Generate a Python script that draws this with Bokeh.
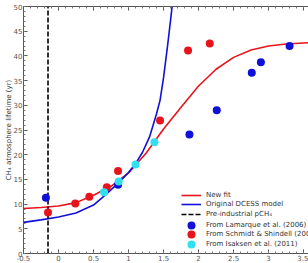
from bokeh.plotting import figure
from bokeh.models import Legend, LegendItem, LinearAxis, FixedTicker, Range1d
from bokeh.embed import file_html
from bokeh.resources import INLINE

# ---- data ----
xticks = [-0.5, 0, 0.5, 1, 1.5, 2, 2.5, 3, 3.5]
xtick_labels = ["-0.5", "0", "0.5", "1", "1.5", "2", "2.5", "3", "3.5"]
yticks = [0, 5, 10, 15, 20, 25, 30, 35, 40, 45, 50]
ytick_labels = ["0", "5", "10", "15", "20", "25", "30", "35", "40", "45", "50"]

fit_x = [-0.5, -0.25, 0.0, 0.25, 0.5, 0.75, 1.0, 1.25, 1.5, 1.75, 2.0, 2.25, 2.5, 2.75, 3.0, 3.25, 3.6]
fit_y = [9.1, 9.3, 9.6, 10.3, 11.8, 13.6, 16.3, 20.3, 25.2, 29.6, 33.9, 37.3, 39.7, 41.2, 42.0, 42.4, 42.7]

dcess_x = [-0.5, -0.25, 0.0, 0.25, 0.5, 0.65, 0.85, 1.0, 1.1, 1.2, 1.3, 1.4, 1.45, 1.5, 1.55, 1.6, 1.65]
dcess_y = [6.3, 6.8, 7.4, 8.2, 9.8, 11.6, 14.2, 16.4, 18.2, 20.5, 23.6, 28.3, 31.0, 35.6, 41.2, 47.2, 53.5]

preind_x = -0.15

lam_x = [-0.18, 0.85, 1.87, 2.26, 2.76, 2.89, 3.30]
lam_y = [11.3, 13.9, 24.1, 29.0, 36.6, 38.7, 42.0]

sch_x = [-0.15, 0.24, 0.44, 0.69, 0.85, 1.45, 1.85, 2.16]
sch_y = [8.3, 10.1, 11.5, 13.4, 16.7, 26.9, 41.1, 42.5]

isa_x = [0.65, 0.86, 1.1, 1.37]
isa_y = [12.4, 14.6, 18.0, 22.5]

legend_labels = ["New fit", "Original DCESS model", "Pre-industrial pCH₄",
                 "From Lamarque et al. (2006)", "From Schmidt & Shindell (2003)",
                 "From Isaksen et al. (2011)"]

FONT = "DejaVu Sans"
RED = "#e8141c"
BLUE = "#1010d8"
CYAN = "#30e0f0"

p = figure(width=308, height=263, output_backend="svg", toolbar_location=None,
           x_range=Range1d(-0.5, 3.57), y_range=Range1d(0, 50),
           min_border_left=23, min_border_right=0, min_border_top=6, min_border_bottom=9,
           x_axis_location=None, y_axis_location=None)
p.grid.visible = False
p.outline_line_color = None
p.background_fill_color = "white"
p.border_fill_color = "white"

def style_axis(ax, labels=True):
    ax.axis_line_color = "#555555"
    ax.axis_line_width = 1
    ax.major_tick_in = 4
    ax.major_tick_out = 0
    ax.minor_tick_in = 2
    ax.minor_tick_out = 0
    ax.major_tick_line_color = "#555555"
    ax.minor_tick_line_color = "#777777"
    ax.major_label_text_font = FONT
    ax.major_label_text_color = "#555555"
    ax.major_label_text_font_size = "7px"
    ax.major_label_standoff = 1 if labels else 0

xminor = [round(-0.5 + 0.1 * i, 2) for i in range(41)]
yminor = list(range(0, 51))

xb = LinearAxis(ticker=FixedTicker(ticks=xticks, minor_ticks=xminor),
                major_label_overrides={t: l for t, l in zip(xticks, xtick_labels)})
style_axis(xb)
p.add_layout(xb, "below")

xt = LinearAxis(ticker=FixedTicker(ticks=xticks, minor_ticks=xminor),
                major_label_overrides={t: "" for t in xticks})
style_axis(xt, labels=False)
p.add_layout(xt, "above")

yl = LinearAxis(ticker=FixedTicker(ticks=yticks, minor_ticks=yminor),
                major_label_overrides={t: l for t, l in zip(yticks, ytick_labels)},
                axis_label="CH₄ atmosphere lifetime (yr)")
style_axis(yl)
yl.major_label_standoff = 1
yl.axis_label_text_font = FONT
yl.axis_label_text_font_size = "7px"
yl.axis_label_text_font_style = "normal"
yl.axis_label_text_color = "#333333"
yl.axis_label_standoff = -2
p.add_layout(yl, "left")

r_fit = p.line(fit_x, fit_y, line_color=RED, line_width=1.6)
r_dc = p.line(dcess_x, dcess_y, line_color=BLUE, line_width=1.6)
r_pi = p.line([preind_x, preind_x], [0, 50], line_color="black", line_width=1.6, line_dash="5 2")
r_lam = p.scatter(lam_x, lam_y, size=8, fill_color=BLUE, line_color=None)
r_sch = p.scatter(sch_x, sch_y, size=8, fill_color=RED, line_color=None)
r_isa = p.scatter(isa_x, isa_y, size=8, fill_color=CYAN, line_color=None)

renderers = [r_fit, r_dc, r_pi, r_lam, r_sch, r_isa]
row_centers = [58.3, 48.7, 39.0, 28.5, 18.8, 9.2]  # px above frame bottom
for i, (lab, r, c) in enumerate(zip(legend_labels, renderers, row_centers)):
    gh = 8 if i < 3 else 20
    lg = Legend(items=[LegendItem(label=lab, renderers=[r])],
                location=(158, int(round(c - gh / 2))))
    lg.padding = 0
    lg.margin = 0
    lg.spacing = 0
    lg.glyph_height = gh
    lg.glyph_width = 20
    lg.label_height = 8
    lg.label_standoff = 5
    lg.label_text_font = FONT
    lg.label_text_font_size = "7px"
    lg.label_text_color = "#333333"
    lg.border_line_alpha = 0
    lg.background_fill_alpha = 0
    lg.inactive_fill_alpha = 0
    p.add_layout(lg, "center")

open("out.html", "w").write(file_html(p, INLINE))
